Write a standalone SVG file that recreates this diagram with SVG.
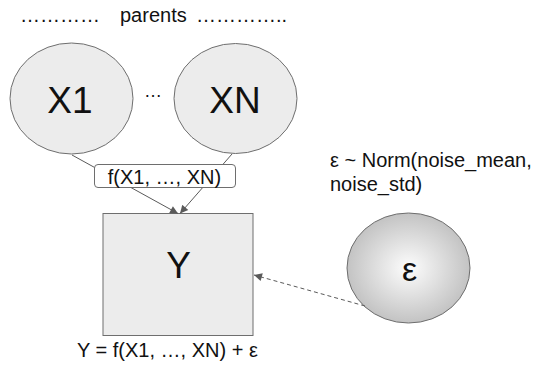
<svg xmlns="http://www.w3.org/2000/svg" width="537" height="366" viewBox="0 0 537 366">
<style>
.node{fill:#ececec;stroke:#6e6e6e;stroke-width:1}
.t{font-family:"Liberation Sans",Arial,sans-serif;fill:#111}
.big{font-size:37px}
.mid{font-size:20px}
.edge{stroke:#5a5a5a;stroke-width:1;fill:none}
.dash{stroke-dasharray:4,3}
</style>
<defs>
<marker id="ah" viewBox="0 0 10 10" refX="10" refY="5" markerWidth="10" markerHeight="8" orient="auto" markerUnits="userSpaceOnUse">
<path d="M0,0 L10,5 L0,10 z" fill="#5a5a5a"/>
</marker>
<radialGradient id="eg" cx="0.5" cy="0.5" r="0.5">
<stop offset="0" stop-color="#fdfdfd"/>
<stop offset="1" stop-color="#c3c3c3"/>
</radialGradient>
</defs>
<rect width="537" height="366" fill="#fff"/>
<g id="title">
<text class="t mid" y="22"><tspan x="20">…………</tspan><tspan x="120">parents</tspan><tspan x="196">…………..</tspan></text>
</g>
<g id="x1">
<ellipse class="node" cx="71.5" cy="98.5" rx="61.5" ry="55.5"/>
<text class="t big" x="70" y="113" text-anchor="middle">X1</text>
</g>
<g id="dots">
<text class="t" x="153" y="97" font-size="18" text-anchor="middle">…</text>
</g>
<g id="xn">
<ellipse class="node" cx="235.5" cy="98.5" rx="61.5" ry="55"/>
<text class="t big" x="235" y="113" text-anchor="middle">XN</text>
</g>
<g id="y">
<rect class="node" x="103" y="213.5" width="150" height="122"/>
<text class="t big" x="178.5" y="278" text-anchor="middle">Y</text>
</g>
<g id="eps">
<ellipse cx="408.5" cy="268" rx="61.5" ry="55" fill="url(#eg)" stroke="#6e6e6e" stroke-width="1"/>
<text class="t" x="409.5" y="281" font-size="34" text-anchor="middle">ε</text>
</g>
<g id="connectors">
<line class="edge" x1="72" y1="155" x2="178" y2="213.5" marker-end="url(#ah)"/>
<line class="edge" x1="232" y1="154" x2="180" y2="213.5" marker-end="url(#ah)"/>
<line class="edge dash" x1="365" y1="306" x2="254" y2="275" marker-end="url(#ah)"/>
<g id="flabel">
<rect x="94.5" y="164.5" width="141" height="23" rx="3.5" fill="#fff" stroke="#6e6e6e" stroke-width="1"/>
<text class="t mid" x="164.5" y="184" text-anchor="middle">f(X1, …, XN)</text>
</g>
</g>
<g id="labels">
<text class="t mid" x="330" y="167">ε ~ Norm(noise_mean,</text>
<text class="t mid" x="330" y="191">noise_std)</text>
<text class="t mid" x="77" y="357">Y = f(X1, …, XN) + ε</text>
</g>
</svg>
